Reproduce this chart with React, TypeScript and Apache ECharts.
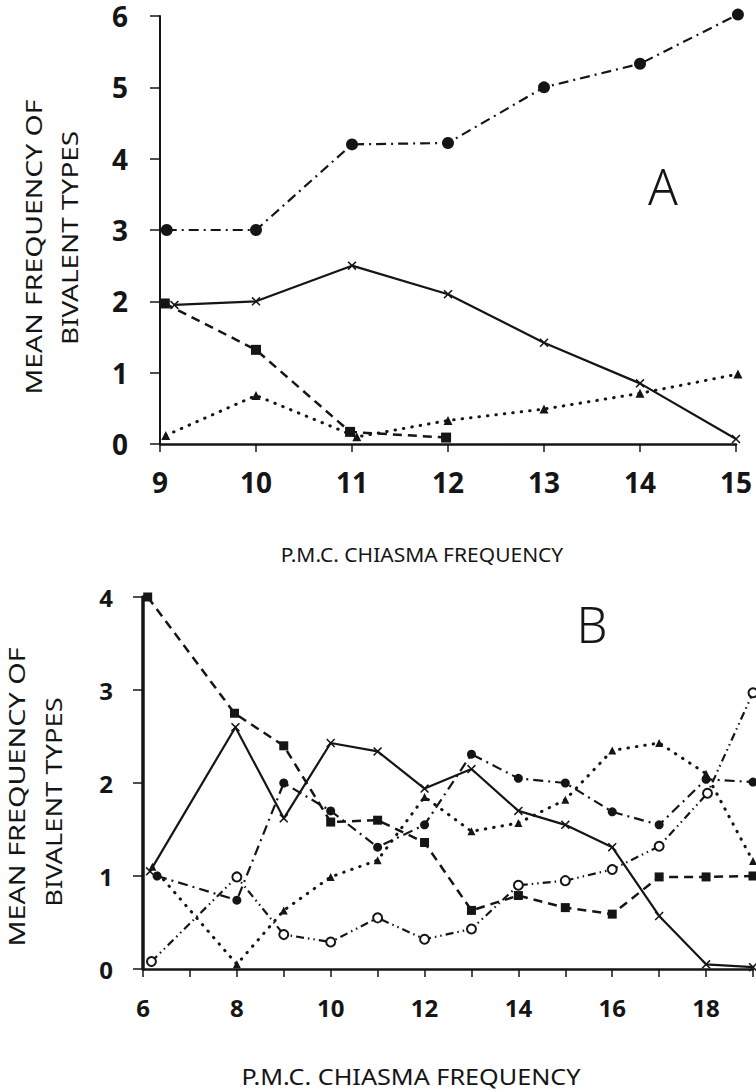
import React, { useEffect, useRef } from 'react';
import * as echarts from 'echarts';

// ---- Panel A data ----
const A_X_TICKS = [9, 10, 11, 12, 13, 14, 15];
const A_CIRCLES = [[9.07, 3.0], [10, 3.0], [11, 4.2], [12, 4.22], [13, 5.0], [14, 5.33], [15.02, 6.02]];
const A_CROSSES = [[9.15, 1.95], [10, 2.0], [11, 2.5], [12, 2.1], [13, 1.42], [14, 0.85], [15, 0.07]];
const A_SQUARES = [[9.05, 1.97], [10, 1.32], [10.98, 0.17], [11.98, 0.09]];
const A_TRIANGLES = [[9.06, 0.12], [10, 0.68], [11.05, 0.1], [12, 0.33], [13, 0.49], [14, 0.71], [15.02, 0.98]];

// ---- Panel B data ----
const B_X_TICKS = [6, 8, 10, 12, 14, 16, 18];
const B_SQUARES = [[6.1, 4.0], [7.95, 2.75], [9, 2.4], [10, 1.58], [11, 1.6], [12, 1.36], [13, 0.63], [14, 0.79], [15, 0.66], [16, 0.59], [17, 0.99], [18, 0.99], [19, 1.0]];
const B_CROSSES = [[6.15, 1.05], [7.97, 2.6], [9, 1.62], [10, 2.43], [11, 2.34], [12, 1.94], [13, 2.15], [14, 1.7], [15, 1.55], [16, 1.31], [17, 0.57], [18, 0.05], [19, 0.02]];
const B_CIRCLES = [[6.3, 1.0], [8, 0.74], [9, 2.0], [10, 1.7], [11, 1.31], [12, 1.55], [13, 2.31], [14, 2.05], [15, 2.0], [16, 1.69], [17, 1.55], [18, 2.04], [19, 2.01]];
const B_TRIANGLES = [[6.2, 1.1], [8, 0.05], [9, 0.63], [10, 0.99], [11, 1.17], [12, 1.85], [13, 1.48], [14, 1.57], [15, 1.82], [16, 2.35], [17, 2.43], [18, 2.1], [19, 1.16]];
const B_OPEN = [[6.18, 0.08], [8, 0.99], [9, 0.37], [10, 0.29], [11, 0.55], [12, 0.32], [13, 0.43], [14, 0.9], [15, 0.95], [16, 1.07], [17, 1.32], [18.03, 1.89], [19, 2.97]];

const INK = '#151515';
const FONT = '"Noto Sans", "DejaVu Sans", sans-serif';
const CROSS = 'path://M0,1.2L1.2,0L5,3.8L8.8,0L10,1.2L6.2,5L10,8.8L8.8,10L5,6.2L1.2,10L0,8.8L3.8,5Z';

const line = (data: number[][], idx: number, symbol: string, size: number, type: any, width: number, cap = 'butt') => ({
  type: 'line',
  xAxisIndex: idx,
  yAxisIndex: idx,
  data,
  symbol,
  symbolSize: size,
  symbolKeepAspect: true,
  clip: false,
  showSymbol: true,
  itemStyle: symbol === 'emptyCircle' ? { color: INK, borderColor: INK, borderWidth: 1.5 } : { color: INK },
  lineStyle: { color: INK, width, type, cap },
  z: 3,
});

const txt = (text: string, x: number, y: number, size: number, o: any = {}) => ({
  type: 'text',
  x,
  y,
  rotation: o.rotation || 0,
  scaleX: o.scaleX || 1,
  scaleY: 1,
  style: {
    text,
    fill: INK,
    font: `${o.weight || 'normal'} ${size}px ${FONT}`,
    textAlign: 'center',
    textVerticalAlign: 'middle',
    align: 'center',
    verticalAlign: 'middle',
  },
});

const xAxisBase = (idx: number, min: number, max: number, ticks: number[], size: number, margin: number) => ({
  type: 'value',
  gridIndex: idx,
  min,
  max,
  interval: 1,
  axisLine: { show: true, onZero: false, lineStyle: { color: INK, width: 2.5 } },
  axisTick: { show: true, length: 8, lineStyle: { color: INK, width: 1.5 } },
  splitLine: { show: false },
  axisLabel: {
    margin,
    fontSize: size,
    fontFamily: FONT,
    fontWeight: 'bold',
    color: INK,
    hideOverlap: false,
    showMinLabel: true,
    showMaxLabel: true,
    formatter: (v: number) => (ticks.includes(v) ? String(v) : ''),
  },
});

const yAxisBase = (idx: number, max: number, size: number, margin: number, lw: number) => ({
  type: 'value',
  gridIndex: idx,
  min: 0,
  max,
  interval: 1,
  axisLine: { show: true, onZero: false, lineStyle: { color: INK, width: lw } },
  axisTick: { show: true, length: 10, lineStyle: { color: INK, width: 1.5 } },
  splitLine: { show: false },
  axisLabel: {
    margin,
    align: 'center',
    fontSize: size,
    fontFamily: FONT,
    fontWeight: 'bold',
    color: INK,
    showMinLabel: true,
    showMaxLabel: true,
  },
});

export default function App() {
  const ref = useRef<HTMLDivElement>(null);
  useEffect(() => {
    if (!ref.current) return;
    const chart = echarts.init(ref.current, undefined, { renderer: 'svg' });
    const V = Math.PI / 2;
    chart.setOption({
      animation: false,
      backgroundColor: '#ffffff',
      grid: [
        { left: 160, top: 16, width: 576, height: 428 },
        { left: 143, top: 597, width: 617.5, height: 372 },
      ],
      xAxis: [xAxisBase(0, 9, 15, A_X_TICKS, 28, 24), xAxisBase(1, 6, 19, B_X_TICKS, 24, 26)],
      yAxis: [yAxisBase(0, 6, 28, 40, 2), yAxisBase(1, 4, 24, 37, 3.5)],
      series: [
        line(A_CIRCLES, 0, 'circle', 12, [10, 5, 2, 5], 2.2),
        line(A_CROSSES, 0, CROSS, 9, 'solid', 2.2),
        line(A_SQUARES, 0, 'rect', 10, [9, 6], 2.5),
        line(A_TRIANGLES, 0, 'triangle', 9, [0.5, 8], 3, 'round'),
        line(B_SQUARES, 1, 'rect', 9, [9, 6], 2.5),
        line(B_CROSSES, 1, CROSS, 9, 'solid', 2.2),
        line(B_CIRCLES, 1, 'circle', 9, [10, 5, 2, 5], 2.2),
        line(B_TRIANGLES, 1, 'triangle', 8, [0.5, 8], 3, 'round'),
        line(B_OPEN, 1, 'emptyCircle', 9, [8, 4, 1.5, 4, 1.5, 4], 2.2),
      ],
      graphic: [
        txt('MEAN FREQUENCY OF', 34, 247, 21, { rotation: V, scaleX: 1.35 }),
        txt('BIVALENT TYPES', 70, 238, 21, { rotation: V, scaleX: 1.33 }),
        txt('P.M.C. CHIASMA FREQUENCY', 422, 554, 20, { scaleX: 1.05 }),
        txt('A', 663, 186, 49, { weight: 300 }),
        txt('MEAN FREQUENCY OF', 17, 797, 21, { rotation: V, scaleX: 1.37 }),
        txt('BIVALENT TYPES', 54, 802, 21, { rotation: V, scaleX: 1.3 }),
        txt('P.M.C. CHIASMA FREQUENCY', 411, 1077, 21, { scaleX: 1.2 }),
        txt('B', 592, 624, 49, { weight: 300 }),
      ],
    });
    return () => chart.dispose();
  }, []);
  return <div ref={ref} style={{ position: 'fixed', left: 0, top: 0, width: 756, height: 1091, background: '#fff' }} />;
}
